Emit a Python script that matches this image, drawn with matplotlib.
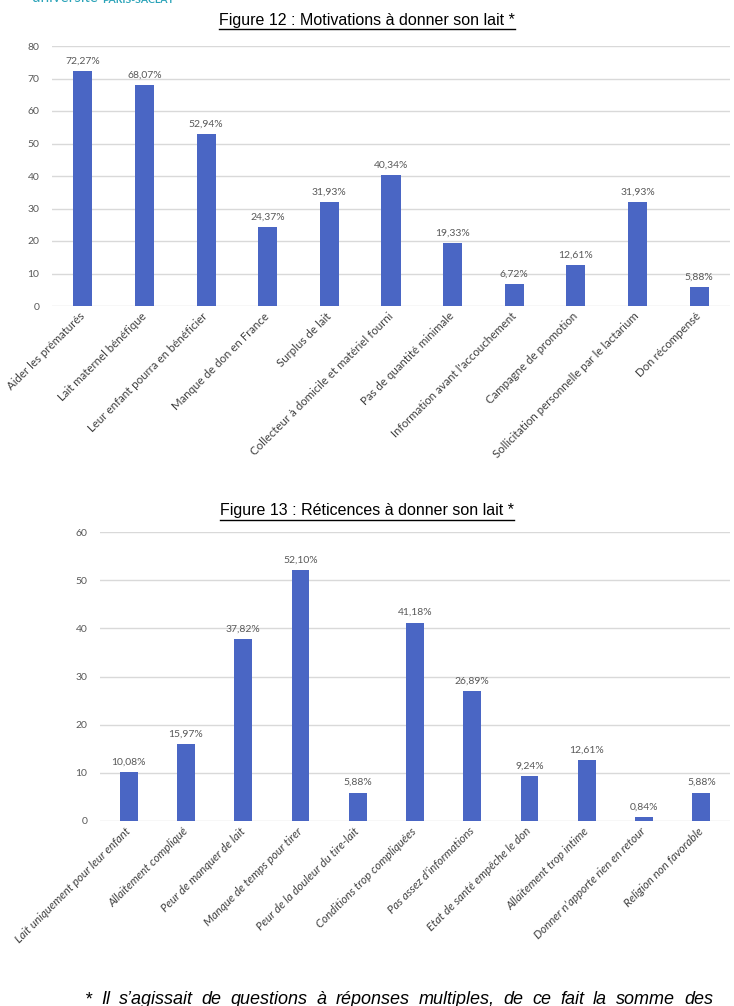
import matplotlib
matplotlib.use("Agg")
import matplotlib.pyplot as plt
from matplotlib.lines import Line2D

# Figure 12 data
motiv_labels = [
    "Aider les prématurés", "Lait maternel bénéfique", "Leur enfant pourra en bénéficier",
    "Manque de don en France", "Surplus de lait", "Collecteur à domicile et matériel fourni",
    "Pas de quantité minimale", "Information avant l'accouchement", "Campagne de promotion",
    "Sollicitation personnelle par le lactarium", "Don récompensé",
]
motiv_values = [72.27, 68.07, 52.94, 24.37, 31.93, 40.34, 19.33, 6.72, 12.61, 31.93, 5.88]

# Figure 13 data
retic_labels = [
    "Lait uniquement pour leur enfant", "Allaitement compliqué", "Peur de manquer de lait",
    "Manque de temps pour tirer", "Peur de la douleur du tire-lait", "Conditions trop compliquées",
    "Pas assez d’informations", "Etat de santé empêche le don", "Allaitement trop intime",
    "Donner n’apporte rien en retour", "Religion non favorable",
]
retic_values = [10.08, 15.97, 37.82, 52.10, 5.88, 41.18, 26.89, 9.24, 12.61, 0.84, 5.88]

bar_color = "#4a66c4"
grid_color = "#d9d9d9"
text_color = "#595959"
W, H = 734, 1006

fig = plt.figure(figsize=(W / 100, H / 100), dpi=100)


def fy(px):
    return 1 - px / H


def draw_chart(rect, labels, values, ymax, italic):
    ax = fig.add_axes(rect)
    x = list(range(len(values)))
    ax.bar(x, values, width=0.31, color=bar_color, zorder=3)
    ax.set_xlim(-0.5, len(values) - 0.5)
    ax.set_ylim(0, ymax)
    ax.set_yticks(range(0, ymax + 1, 10))
    ax.yaxis.grid(True, color=grid_color, linewidth=1, zorder=0)
    for s in ax.spines.values():
        s.set_visible(False)
    ax.tick_params(length=0, colors=text_color, labelsize=7.5, pad=9)
    for lab in ax.get_yticklabels():
        lab.set_fontfamily("Lato")
    ax.set_xticks(x)
    ax.set_xticklabels(labels, rotation=45, ha="right", va="center",
                       rotation_mode="anchor", fontsize=8.3, color="#404040",
                       family="Lato", style="italic" if italic else "normal")
    ax.tick_params(axis="x", pad=6)
    for xi, v in zip(x, values):
        ax.annotate(f"{v:.2f}".replace(".", ",") + "%", (xi, v), xytext=(0, 4),
                    textcoords="offset points", ha="center", va="bottom",
                    fontsize=7.5, color=text_color, family="Lato")
    return ax


draw_chart([52 / W, fy(306), 678 / W, 260 / H], motiv_labels, motiv_values, 80, False)
draw_chart([100 / W, fy(821), 630 / W, 289 / H], retic_labels, retic_values, 60, True)

# titles (underlined)
titles = [
    (fy(20), "Figure 12 : Motivations à donner son lait *"),
    (fy(511), "Figure 13 : Réticences à donner son lait *"),
]
title_objs = []
for y, t in titles:
    title_objs.append(fig.text(0.5, y, t, ha="center", va="center", fontsize=11.5,
                               family="Liberation Sans", color="black"))

fig.canvas.draw()
renderer = fig.canvas.get_renderer()

# logo (its top is cut off in the reference)
logo1 = fig.text(32 / W, fy(5), "université", ha="left", va="bottom", fontsize=11,
                 color="#2aa3b8", family="Lato")
lw = logo1.get_window_extent(renderer).width
fig.text((32 + lw + 4) / W, fy(5), "PARIS-SACLAY", ha="left", va="bottom", fontsize=7.5,
         color="#2aa3b8", family="Lato", weight="bold")

# footnote, justified between x=85 and x=713
foot = "* Il s’agissait de questions à réponses multiples, de ce fait la somme des"
words = foot.split(" ")
word_objs = [fig.text(0, fy(1004), w, ha="left", va="baseline", fontsize=13,
                      family="Liberation Sans", style="italic") for w in words]
widths = [t.get_window_extent(renderer).width for t in word_objs]
x0, x1 = 85, 713
gap = (x1 - x0 - sum(widths)) / (len(words) - 1)
xpos = x0
for t, w in zip(word_objs, widths):
    t.set_x(xpos / W)
    xpos += w + gap

# underline titles
for t in title_objs:
    bb = t.get_window_extent(renderer)
    yline = (bb.y0 - 1) / H
    fig.add_artist(Line2D([bb.x0 / W, bb.x1 / W], [yline, yline],
                          color="black", linewidth=1.0, transform=fig.transFigure))

fig.savefig("out.png", dpi=100)
